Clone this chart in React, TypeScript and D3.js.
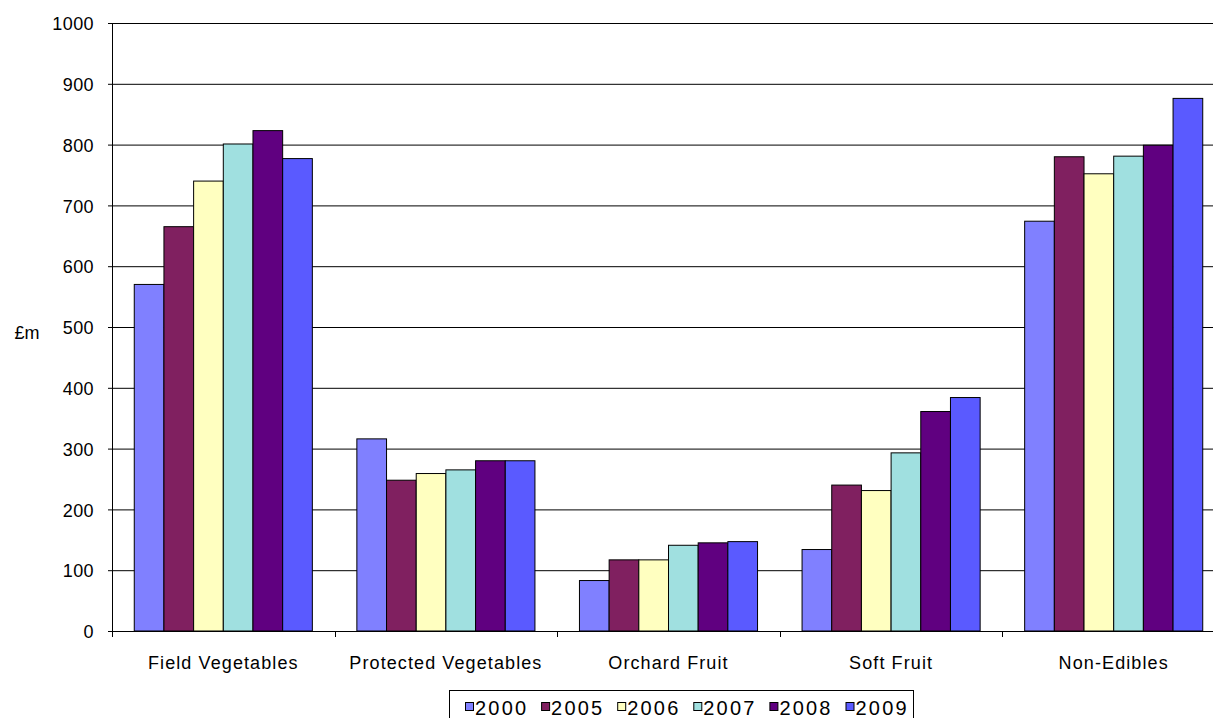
import React from "react";
import * as d3 from "d3";

const categories = ["Field Vegetables", "Protected Vegetables", "Orchard Fruit", "Soft Fruit", "Non-Edibles"];
const years = ["2000", "2005", "2006", "2007", "2008", "2009"];
const colors = ["#8080FF", "#802060", "#FFFFC0", "#A0E0E0", "#600080", "#5A5AFF"];

// £m values per year, one entry per category
const v2000 = [570, 316, 83, 134, 674];
const v2005 = [665, 248, 117, 240, 780];
const v2006 = [740, 259, 117, 231, 752];
const v2007 = [801, 265, 141, 293, 781];
const v2008 = [823, 280, 145, 361, 799];
const v2009 = [777, 280, 147, 384, 876];
const series = [v2000, v2005, v2006, v2007, v2008, v2009];

const yTicks = [0, 100, 200, 300, 400, 500, 600, 700, 800, 900, 1000];

const W = 1213;
const H = 718;
const left = 112;
const right = 1225;
const top = 23;
const bottom = 631;

export default function App() {
  const x = d3.scaleBand<string>().domain(categories).range([left, right]).paddingInner(0).paddingOuter(0);
  // bars fill the category with a gap of 1.5 bar widths between groups
  const inner = d3.scaleBand<string>().domain(years).range([0, x.bandwidth()]).paddingInner(0).paddingOuter(0.75);
  const y = d3.scaleLinear().domain([0, 1000]).range([bottom, top]);
  const font = "Arial, 'Liberation Sans', sans-serif";

  // boundaries between categories for the x-axis tick marks
  const boundaries = categories.map((c) => x(c)!).concat([right]);

  return (
    <svg width={W} height={H} style={{ position: "absolute", left: 0, top: 0, background: "#fff" }} fontFamily={font}>
      {/* horizontal gridlines */}
      {yTicks.slice(1).map((t) => (
        <line key={t} x1={left} x2={right} y1={y(t) + 0.5} y2={y(t) + 0.5} stroke="#000" strokeWidth={1} />
      ))}
      {/* bars */}
      {categories.map((c, ci) => (
        <g key={c}>
          {years.map((yr, si) => {
            const v = series[si][ci];
            const bx = x(c)! + inner(yr)!;
            return (
              <rect
                key={yr}
                x={bx}
                y={y(v)}
                width={inner.bandwidth()}
                height={bottom - y(v)}
                fill={colors[si]}
                stroke="#000"
                strokeWidth={1}
              />
            );
          })}
        </g>
      ))}
      {/* axes */}
      <line x1={left + 0.5} x2={left + 0.5} y1={top} y2={bottom} stroke="#000" />
      <line x1={left} x2={right} y1={bottom + 0.5} y2={bottom + 0.5} stroke="#000" />
      {yTicks.map((t) => (
        <g key={t}>
          <line x1={left - 4} x2={left} y1={y(t) + 0.5} y2={y(t) + 0.5} stroke="#000" />
          <text x={94} y={y(t)} dy="0.4em" textAnchor="end" fontSize={18} letterSpacing={0.4} fill="#000">
            {t}
          </text>
        </g>
      ))}
      {boundaries.map((b, i) => (
        <line key={i} x1={Math.round(b) + 0.5} x2={Math.round(b) + 0.5} y1={bottom} y2={bottom + 6} stroke="#000" />
      ))}
      {categories.map((c) => (
        <text key={c} x={x(c)! + x.bandwidth() / 2} y={669} textAnchor="middle" fontSize={18} letterSpacing={1.1} fill="#000">
          {c}
        </text>
      ))}
      <text x={27} y={333} dy="0.35em" textAnchor="middle" fontSize={18} fill="#000">
        £m
      </text>
      {/* legend */}
      <rect x={449.5} y={690.5} width={464} height={40} fill="#fff" stroke="#000" />
      {years.map((yr, i) => {
        const lx = 465 + i * 76.1;
        return (
          <g key={yr}>
            <rect x={lx + 0.5} y={702.5} width={8} height={8} fill={colors[i]} stroke="#000" />
            <text x={lx + 10} y={715} fontSize={20} letterSpacing={2.2} fill="#000">
              {yr}
            </text>
          </g>
        );
      })}
    </svg>
  );
}
